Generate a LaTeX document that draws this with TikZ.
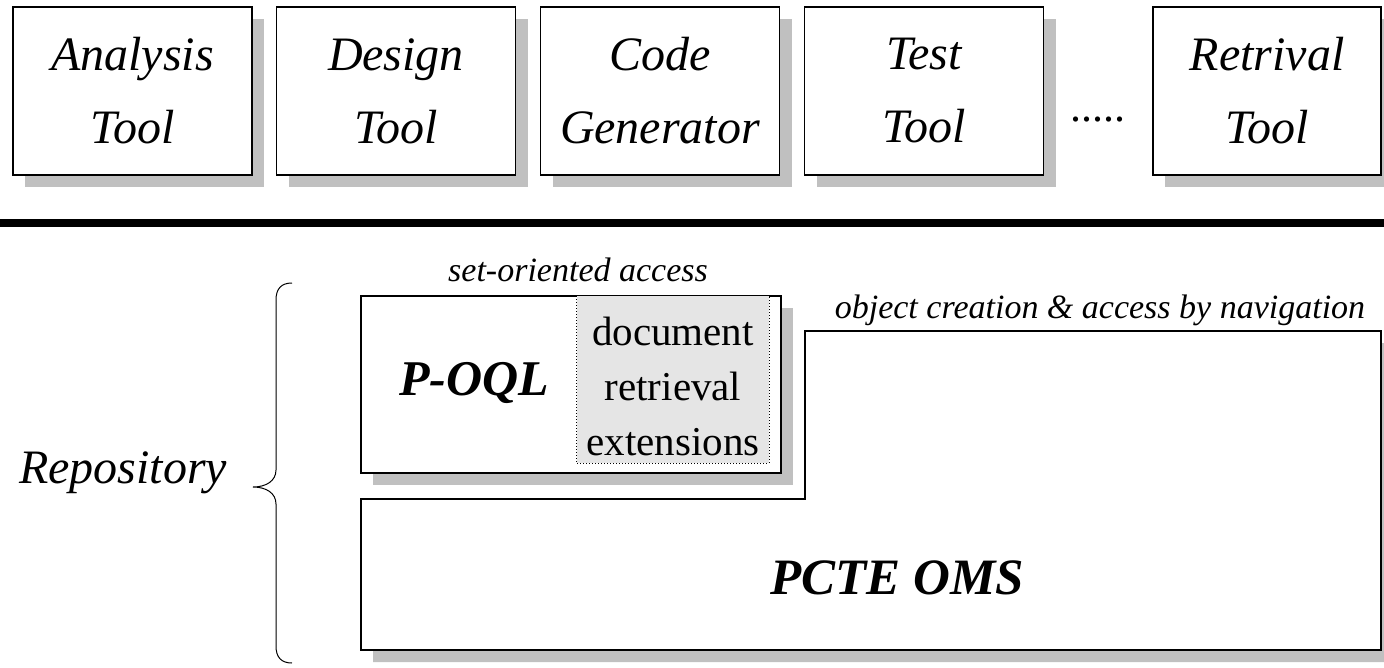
\documentclass[tikz,border=0pt]{standalone}
\usepackage{fontspec}
\setmainfont{Liberation Serif}
\usetikzlibrary{shadows}
\definecolor{shadowgray}{RGB}{192,192,192}
\definecolor{extfill}{RGB}{229,229,229}
\begin{document}
\begin{tikzpicture}[x=1pt,y=-1pt,
  shadowed/.style={drop shadow={shadow xshift=12pt, shadow yshift=-12pt, fill=shadowgray, opacity=1}},
  boxline/.style={draw, line width=1.3pt, fill=white},
  toolbox/.style={boxline, shadowed, minimum width=239pt, minimum height=168pt, inner sep=0pt,
    align=center, font=\fontsize{48}{73}\selectfont\itshape},
  label/.style={font=\fontsize{34}{34}\selectfont\itshape, anchor=base, inner sep=0pt},
  bigbold/.style={font=\fontsize{51}{51}\selectfont\bfseries\itshape, inner sep=0pt},
  exttext/.style={font=\fontsize{41}{55}\selectfont, align=center, inner sep=0pt}]
\useasboundingbox (0,0) rectangle (1384,667);

% tools
\node[toolbox] (analysis) at (132.5,91) {Analysis\\Tool};
\node[toolbox] (design) at (396,91) {Design\\Tool};
\node[toolbox] (code) at (660,91) {Code\\Generator};
\node[toolbox] (test) at (924,91) {Test\\Tool};
\node[font=\fontsize{44}{44}\selectfont, anchor=base, inner sep=0pt] (dots) at (1098,121) {.....};
\node[toolbox, minimum width=228pt] (retrival) at (1267,91) {Retrival\\Tool};

% separator bar
\fill (0,219) rectangle (1384,227);

% P-OQL
\node[label] (setacc) at (578,281) {set-oriented access};
\node[boxline, shadowed, minimum width=420pt, minimum height=177pt, inner sep=0pt] (poql) at (571,384.5) {};
\node[fill=extfill, minimum width=192pt, minimum height=167pt, inner sep=0pt] (ext) at (673,379.5) {};
\draw[dotted, line width=1pt] (ext.north west) -- (ext.south west) -- (ext.south east) -- (ext.north east);
\node[exttext] (exttxt) at (673,386) {document\\retrieval\\extensions};
\node[bigbold, font=\fontsize{50}{50}\selectfont\bfseries\itshape] (poqltxt) at (474,383) {P-OQL};

% PCTE OMS
\node[label] (objacc) at (1100,318) {object creation \& access by navigation};
\draw[line width=1.3pt, fill=white, shadowed] (361,499) -- (805,499) -- (805,331) -- (1381,331) -- (1381,650) -- (361,650) -- cycle;
\node[bigbold] (pcte) at (897,578) {PCTE OMS};

% Repository brace
\node[font=\fontsize{48}{48}\selectfont\itshape, anchor=base, inner sep=0pt] (repo) at (123,483) {Repository};
\coordinate (btop) at (292,283);
\coordinate (btip) at (253,487);
\coordinate (bbot) at (292,663);
\draw[line width=1pt] (btop) .. controls (281,283) and (276,289) .. (276,300) -- (276,470)
  .. controls (276,481) and (266,487) .. (btip)
  .. controls (266,487) and (276,493) .. (276,504) -- (276,646)
  .. controls (276,657) and (281,663) .. (bbot);
\end{tikzpicture}
\end{document}
